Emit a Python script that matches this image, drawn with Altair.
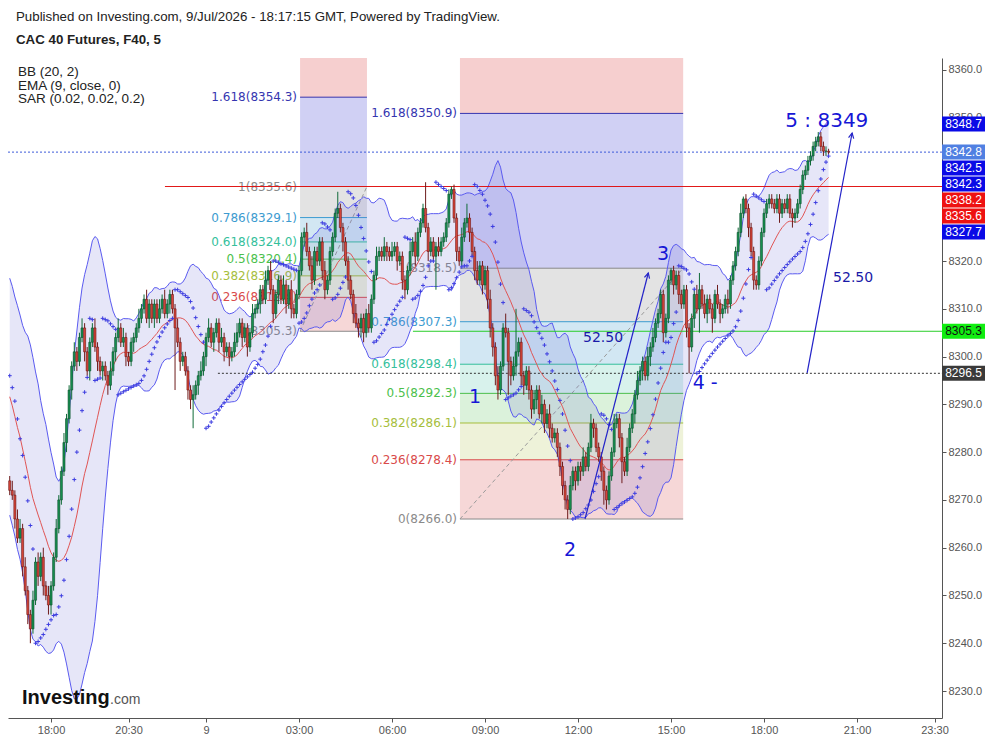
import altair as alt
import pandas as pd

# ---------------- data ----------------
# warm-up closes before the visible window (needed for BB(20) at the left edge)
pre_closes = [8306, 8309, 8311, 8308, 8304, 8306, 8302, 8298, 8300, 8296,
              8292, 8288, 8290, 8285, 8281, 8283, 8279, 8276, 8278, 8274]

first_index = -76          # bar index of first visible 5-min candle (index 0 = 00:00 on the 9th)
closes = [
    8272, 8271, 8266, 8262,  8264, 8256, 8251, 8246,  8243, 8249, 8257, 8254,
    8258, 8252, 8250, 8248,  8252, 8258, 8264, 8270,  8276, 8282, 8287, 8293,
    8298, 8301, 8299, 8304,  8306, 8301, 8297, 8303,  8306, 8302, 8299, 8297,
    8298, 8296, 8294, 8297,  8301, 8304, 8306, 8303,  8304, 8300, 8299, 8303,
    8304, 8306, 8308, 8310,  8312, 8308, 8311, 8308,  8311, 8308, 8310, 8312,
    8309, 8311, 8313, 8310,  8306, 8303, 8299, 8300,  8297, 8293, 8291, 8292,
    8294, 8296, 8297, 8300,  8304, 8306, 8303, 8305,  8307, 8303, 8304, 8301,
    8302, 8300, 8301, 8303,  8305, 8307, 8304, 8306,  8302, 8305, 8309, 8310,
    8311, 8314, 8312, 8316,  8318, 8314, 8309, 8313,  8316, 8312, 8315, 8311,
    8314, 8310, 8309, 8313,  8318, 8325, 8326, 8322,  8319, 8316, 8322, 8320,
    8324, 8318, 8314, 8316,  8322, 8325, 8330, 8331,  8327, 8324, 8320, 8316,
    8313, 8309, 8307, 8306,  8308, 8305, 8309, 8306,  8312, 8317, 8321, 8322,
    8321, 8323, 8322, 8321,  8322, 8323, 8320, 8321,  8316, 8314, 8318, 8322,
    8324, 8321, 8326, 8328,  8331, 8327, 8322, 8324,  8321, 8323, 8322, 8324,
    8325, 8328, 8334, 8335,  8329, 8322, 8320, 8325,  8328, 8329, 8326, 8322,
    8318, 8316, 8319, 8315,  8318, 8312, 8306, 8302,  8296, 8293, 8298, 8306,
    8305, 8299, 8296, 8298,  8301, 8303, 8296, 8294,  8297, 8293, 8289, 8291,
    8293, 8288, 8290, 8286,  8288, 8285, 8283, 8284,  8281, 8277, 8273, 8270,
    8268, 8273, 8276, 8274,  8277, 8276, 8279, 8277,  8281, 8286, 8285, 8281,
    8279, 8276, 8272, 8270,  8275, 8280, 8286, 8287,  8283, 8278, 8276, 8281,
    8285, 8288, 8292, 8295,  8297, 8299, 8296, 8300,  8302, 8304, 8307, 8309,
    8313, 8305, 8308, 8316,  8318, 8315, 8317, 8313,  8311, 8314, 8306, 8302,
    8308, 8313, 8310, 8314,  8311, 8309, 8312, 8310,  8308, 8313, 8311, 8309,
    8310, 8312, 8311, 8316,  8319, 8322, 8326, 8330,  8333, 8331, 8327, 8322,
    8316, 8315, 8320, 8326,  8330, 8332, 8333, 8332,  8331, 8333, 8330, 8332,
    8331, 8333, 8330, 8329,  8330, 8332, 8335, 8338,  8339, 8341, 8342, 8344,
    8345, 8346, 8344, 8343,  8343, 8342.8]

# upper / lower wick lengths (points) per candle
wick_up = [
    1, 2, 1, 2,  2, 1, 2, 1,  1, 2, 1, 2,  1, 2, 1, 2,  1, 1, 2, 1,  1, 2, 1, 1,
    1, 2, 1, 1,  2, 1, 1, 1,  1, 2, 1, 1,  1, 1, 1, 2,  1, 1, 2, 1,  2, 1, 1, 1,
    1, 1, 2, 1,  1, 2, 1, 1,  1, 1, 2, 1,  2, 1, 1, 1,  1, 2, 1, 1,  1, 1, 1, 2,
    1, 1, 2, 1,  1, 2, 1, 1,  1, 1, 2, 1,  1, 1, 1, 2,  2, 1, 1, 1,  1, 1, 2, 1,
    1, 1, 1, 2,  1, 2, 1, 1,  1, 1, 2, 1,  1, 2, 1, 1,  1, 1, 1, 2,  1, 2, 1, 1,
    1, 1, 2, 1,  1, 1, 1, 3.5,  1, 1, 1, 1,  1, 1, 2, 1,  1, 1, 1, 2,  1, 1, 2, 1,
    1, 2, 1, 1,  2, 1, 1, 1,  1, 1, 1, 2,  1, 2, 1, 1,  1, 5.5, 1, 1,  1, 1, 2, 1,
    1, 1, 1, 0.6,  1, 1, 1, 2,  1, 3, 1, 1,  1, 2, 1, 1,  1, 1, 2, 1,  1, 2, 1, 1,
    3, 1, 1, 2,  9, 1, 1, 1,  1, 1, 1, 2,  1, 1, 2, 1,  1, 2, 1, 1,  1, 1, 1, 1,
    1, 2, 1, 1,  1, 1, 2, 1,  1, 2, 1, 1,  1, 1, 1, 1,  1, 1, 2, 1,  1, 1, 1, 2,
    1, 1, 1, 2,  1, 1, 1, 2,  1, 2, 1, 1,  1, 1, 1, 1,  0.5, 1, 1, 1,  1, 1, 1, 1,
    1, 1, 2, 3.5,  1, 2, 1, 1,  1, 1, 2, 1,  1, 1, 2, 1,  1, 1, 1, 2,  0.5, 1, 1, 1,
    1, 1, 1, 1,  1, 1, 1, 1,  1, 1, 1, 1,  1, 1, 1, 1,  1, 1, 1, 1,  1, 1, 1, 1,
    1, 1, 1, 1,  1, 0.5]
wick_dn = [
    1, 1, 2, 1,  1, 2, 1, 2,  3, 1, 1, 2,  1, 2, 1, 2,  2, 1, 1, 1,  1, 1, 2, 1,
    2, 1, 2, 1,  1, 2, 1, 2,  1, 1, 2, 1,  2, 1, 2, 1,  1, 2, 1, 1,  1, 2, 1, 1,
    2, 1, 1, 1,  1, 1, 2, 1,  2, 1, 1, 1,  1, 1, 2, 1,  13, 1, 2, 1,  1, 2, 2, 6,
    1, 2, 1, 1,  2, 1, 1, 2,  1, 2, 1, 2,  1, 2, 1, 1,  1, 1, 2, 1,  2, 1, 1, 1,
    1, 2, 1, 1,  1, 1, 2, 1,  2, 1, 1, 2,  1, 2, 1, 1,  1, 1, 2, 1,  1, 2, 1, 1,
    1, 2, 2, 1,  1, 1, 1, 1,  1, 2, 1, 2,  1, 2, 1, 2,  2, 2, 1, 1,  1, 1, 1, 1,
    1, 1, 2, 1,  1, 1, 2, 1,  2, 2, 1, 1,  1, 2, 1, 1,  1, 1, 2, 1,  1, 7, 1, 1,
    1, 1, 1, 1,  1, 2, 1, 1,  1, 1, 2, 1,  2, 1, 1, 2,  1, 2, 2, 2,  2, 2, 1, 1,
    1, 7, 2, 1,  2, 1, 2, 2,  1, 2, 2, 1,  2, 1, 2, 2,  1, 2, 1, 1,  2, 2, 2, 2,
    2, 1, 1, 2,  1, 2, 1, 1,  1, 1, 2, 1,  1, 2, 3, 2,  1, 1, 1, 1,  2, 4.5, 1, 1,
    1, 1, 2, 1,  1, 2, 1, 1,  2, 1, 1, 1,  1, 2, 1, 1,  1, 2, 1, 2,  1, 1, 2, 5.5,
    1, 2, 1, 5,  1, 1, 2, 1,  3, 1, 1, 2,  1, 1, 2, 1,  1, 1, 1, 1,  1, 1, 2, 1,
    2, 1, 1, 1,  1, 1, 1, 1,  1, 1, 2, 1,  1, 1, 1, 2,  1, 1, 1, 1,  1, 1, 1, 1,
    1, 1, 1, 1,  1, 0.5]

sar_start, sar_af_start = 8296.0, 0.10   # SAR state at the first visible bar (down trend)

tick_index = [-60, -30, 0, 36, 72, 108, 144, 180, 216, 252, 282]
tick_text = ["18:00", "20:30", "9", "03:00", "06:00", "09:00", "12:00", "15:00", "18:00", "21:00", "23:30"]
# 8330 and 8340 are hidden behind the price flags in the reference
y_ticks = [8230, 8240, 8250, 8260, 8270, 8280, 8290, 8300, 8310, 8320, 8350, 8360]

fib_ratios = [0, 0.236, 0.382, 0.5, 0.618, 0.786, 1, 1.618]
fib_left_prices = [8305.3, 8312.4, 8316.9, 8320.4, 8324.0, 8329.1, 8335.6, 8354.3]
fib_right_prices = [8266.0, 8278.4, 8286.1, 8292.3, 8298.4, 8307.3, 8318.5, 8350.9]
fib_tops = [8384.6, 8403.4]                # 2.618 levels (off chart)
fib_spans = [(36.4, 62.3), (98.3, 184.7)]  # bar index of the two anchors
fib_line_colors = ["#8a8a8a", "#d94a4a", "#a6be3c", "#4cbf4c", "#35bf9c", "#3d9bd0", "#8a8a8a", "#3535b0"]
fib_fill_colors = ["#d84848", "#a8c040", "#4cc04c", "#3cc0a0", "#4aa0d0", "#909090", "#6464dc", "#e06060"]
fib_fill_opacity = [0.22, 0.2, 0.2, 0.2, 0.25, 0.25, 0.3, 0.3]

hline_prices = [8335.6, 8305.3, 8296.5, 8342.8]
hline_start = [-15.9, 80.1, 4.6, -76.66]
hline_colors = ["#e01010", "#22cc22", "#333333", "#3d5bd9"]
hline_dash = ["solid", "solid", "dot", "dot"]

arrow_from = [(146.7, 8266.0), (232.7, 8296.6)]
arrow_to = [(171.2, 8317.5), (250.1, 8346.8)]
arrow_angle = [14.4, 10.6]

ann_text = ["1", "2", "3", "4 -", "5 : 8349", "52.50", "52.50"]
ann_i = [104.1, 140.9, 176.9, 193.2, 240.3, 153.7, 250.5]
ann_price = [8291.5, 8259.5, 8321.5, 8294.5, 8349.3, 8303.9, 8316.5]
ann_size = [19, 19, 19, 19, 20, 14, 14]
ann_color = ["#1616d6"] * 5 + ["#1a1aa8"] * 2

flag_values = [8348.7, 8342.8, 8342.5, 8342.3, 8338.2, 8335.6, 8327.7, 8305.3, 8296.5]
flag_bg = ["#0a0ae6", "#5080e2", "#0a0ae6", "#0a0ae6", "#ee1111", "#ee1111", "#0a0ae6", "#11ee11", "#3a3a3a"]
flag_fg = ["white"] * 7 + ["#111111", "white"]

# ---------------- derived tables ----------------
X_DOMAIN = [-76.66, 284.9]
Y_DOMAIN = [8224.35, 8362.5]
W, H = 934, 660

n = len(closes)
idx = list(range(first_index, first_index + n))
opens = [pre_closes[-1]] + closes[:-1]
highs = [max(o, c) + u for o, c, u in zip(opens, closes, wick_up)]
lows = [min(o, c) - d for o, c, d in zip(opens, closes, wick_dn)]
up = [c >= o for o, c in zip(opens, closes)]
candles = pd.DataFrame({"i": idx, "o": opens, "c": closes, "h": highs, "l": lows,
                        "xl": [k - 0.4 for k in idx], "xr": [k + 0.4 for k in idx],
                        "up": ["up" if u else "dn" for u in up]})

allc = pd.Series(pre_closes + closes, dtype=float)
mean20 = allc.rolling(20).mean()
sd20 = allc.rolling(20).std(ddof=0)
p = len(pre_closes)


def parabolic_sar(hs, ls, start, af0):
    s, trend, af = start, -1, af0
    ep = ls[0]
    out = [s]
    for k in range(1, len(hs)):
        s = s + af * (ep - s)
        if trend > 0:
            s = min(s, ls[k - 1], ls[max(k - 2, 0)])
            if ls[k] < s:
                trend, s, ep, af = -1, ep, ls[k], 0.02
            elif hs[k] > ep:
                ep, af = hs[k], min(af + 0.02, 0.2)
        else:
            s = max(s, hs[k - 1], hs[max(k - 2, 0)])
            if hs[k] > s:
                trend, s, ep, af = 1, ep, hs[k], 0.02
            elif ls[k] < ep:
                ep, af = ls[k], min(af + 0.02, 0.2)
        out.append(s)
    return out


ind = pd.DataFrame({"i": idx,
                    "basis": mean20[p:].values,
                    "upper": (mean20 + 2 * sd20)[p:].values,
                    "lower": (mean20 - 2 * sd20)[p:].values,
                    "sar": parabolic_sar(highs, lows, sar_start, sar_af_start)})

band_rows, level_rows, diag_rows = [], [], []
for f, (prices, top, (x1, x2)) in enumerate(zip([fib_left_prices, fib_right_prices], fib_tops, fib_spans)):
    edges = prices + [top]
    for b in range(len(prices)):
        band_rows.append({"x1": x1, "x2": x2, "lo": edges[b], "hi": edges[b + 1],
                          "fill": fib_fill_colors[b], "op": fib_fill_opacity[b]})
    for r, pr, col in zip(fib_ratios, prices, fib_line_colors):
        level_rows.append({"x1": x1, "x2": x2, "y": pr, "col": col,
                           "label": f"{r:g}({pr:.1f})"})
    diag_rows += [{"fib": f, "x": x1, "y": prices[0]}, {"fib": f, "x": x2, "y": prices[6]}]
bands = pd.DataFrame(band_rows)
levels = pd.DataFrame(level_rows)
diags = pd.DataFrame(diag_rows)

hlines = pd.DataFrame({"x1": hline_start, "x2": [X_DOMAIN[1]] * 4, "y": hline_prices,
                       "col": hline_colors, "dash": hline_dash})

arrow_lines = pd.DataFrame([{"a": k, "x": pt[0], "y": pt[1]}
                            for k in range(2) for pt in (arrow_from[k], arrow_to[k])])
arrow_heads = pd.DataFrame({"x": [t[0] for t in arrow_to], "y": [t[1] for t in arrow_to], "ang": arrow_angle})

ann = pd.DataFrame({"t": ann_text, "x": ann_i, "y": ann_price, "fs": ann_size, "col": ann_color})

# stack flags so they do not overlap (16 px apart)
ppu = H / (Y_DOMAIN[1] - Y_DOMAIN[0])
gap = 16 / ppu
disp = []
for v in flag_values:
    disp.append(v if not disp else min(v, disp[-1] - gap))
half = 7.5 / ppu
flags = pd.DataFrame({"v": [f"{v:.1f}" for v in flag_values], "d": disp,
                      "lo": [d - half for d in disp], "hi": [d + half for d in disp],
                      "bg": flag_bg, "fg": flag_fg})

# ---------------- chart ----------------
xs = alt.Scale(domain=X_DOMAIN, nice=False, zero=False)
ys = alt.Scale(domain=Y_DOMAIN, nice=False, zero=False)

label_expr = " : ".join(f"datum.value == {v} ? '{t}'" for v, t in zip(tick_index, tick_text)) + " : ''"
axis_style = dict(title=None, grid=False, tickSize=4, labelPadding=2, labelFont="Liberation Sans",
                  labelFontSize=11, labelColor="#555555", domainColor="#555555", tickColor="#555555",
                  labelFlush=False, labelOverlap=False)
xaxis = alt.Axis(values=tick_index, labelExpr=label_expr, **axis_style)
yaxis = alt.Axis(orient="right", values=y_ticks, format=".1f", **axis_style)


def ex(f):
    return alt.X(f, type="quantitative", scale=xs, axis=xaxis)


def ey(f):
    return alt.Y(f, type="quantitative", scale=ys, axis=yaxis)


fib_fill = alt.Chart(bands).mark_rect(clip=True).encode(
    x=ex("x1"), x2="x2", y=ey("lo"), y2="hi",
    color=alt.Color("fill:N", scale=None), opacity=alt.Opacity("op:Q", scale=None))
fib_lines = alt.Chart(levels).mark_rule(strokeWidth=1).encode(
    x=ex("x1"), x2="x2", y=ey("y"), color=alt.Color("col:N", scale=None))
fib_diag = alt.Chart(diags).mark_line(strokeDash=[4, 3], color="#9a9a9a", strokeWidth=1).encode(
    x=ex("x"), y=ey("y"), detail="fib:N")
fib_text = alt.Chart(levels).mark_text(align="right", dx=-3, baseline="middle",
                                       font="DejaVu Sans", fontSize=12).encode(
    x=ex("x1"), y=ey("y"), text="label:N", color=alt.Color("col:N", scale=None))

bb_area = alt.Chart(ind).mark_area(color="#6a6ad6", opacity=0.17).encode(
    x=ex("i"), y=ey("upper"), y2="lower")
bb_up = alt.Chart(ind).mark_line(color="#5b5bf0", strokeWidth=1).encode(x=ex("i"), y=ey("upper"))
bb_lo = alt.Chart(ind).mark_line(color="#5b5bf0", strokeWidth=1).encode(x=ex("i"), y=ey("lower"))
bb_mid = alt.Chart(ind).mark_line(color="#e05555", strokeWidth=1).encode(x=ex("i"), y=ey("basis"))

hl = alt.Chart(hlines).mark_rule(strokeWidth=1).encode(
    x=ex("x1"), x2="x2", y=ey("y"), color=alt.Color("col:N", scale=None),
    strokeDash=alt.StrokeDash("dash:N", scale=alt.Scale(domain=["solid", "dot"], range=[[1, 0], [2, 2]]),
                              legend=None))

wicks = alt.Chart(candles).mark_rule(strokeWidth=1).encode(
    x=ex("i"), y=ey("l"), y2="h",
    color=alt.Color("up:N", scale=alt.Scale(domain=["up", "dn"], range=["#0f6a38", "#6e1c1c"]), legend=None))
bodies = alt.Chart(candles).mark_rect(strokeWidth=0.6).encode(
    x=ex("xl"), x2="xr", y=ey("o"), y2="c",
    fill=alt.Fill("up:N", scale=alt.Scale(domain=["up", "dn"], range=["#179050", "#d8473a"]), legend=None),
    stroke=alt.Stroke("up:N", scale=alt.Scale(domain=["up", "dn"], range=["#0c4f2b", "#6b1414"]), legend=None))

sar = alt.Chart(ind).mark_point(shape="M-1,0L1,0M0,-1L0,1", size=16, filled=False,
                                strokeWidth=1, color="#3d3de0", opacity=1).encode(x=ex("i"), y=ey("sar"))

arr = alt.Chart(arrow_lines).mark_line(color="#2323c8", strokeWidth=1.2).encode(
    x=ex("x"), y=ey("y"), detail="a:N")
heads = alt.Chart(arrow_heads).mark_point(shape="M-0.5,1L0,0L0.5,1", size=110, filled=False,
                                          strokeWidth=1.2, color="#2323c8", opacity=1).encode(
    x=ex("x"), y=ey("y"), angle=alt.Angle("ang:Q", scale=None))

ann_t = alt.Chart(ann).mark_text(align="center", baseline="middle", font="DejaVu Sans").encode(
    x=ex("x"), y=ey("y"), text="t:N", size=alt.Size("fs:Q", scale=None),
    color=alt.Color("col:N", scale=None))

flag_r = alt.Chart(flags).mark_rect().encode(
    x=alt.value(W), x2=alt.value(W + 43), y=ey("lo"), y2="hi", color=alt.Color("bg:N", scale=None))
flag_t = alt.Chart(flags).mark_text(align="center", baseline="middle", font="Liberation Sans",
                                    fontSize=12).encode(
    x=alt.value(W + 21.5), y=ey("d"), text="v:N", color=alt.Color("fg:N", scale=None))


def label(txt, x, y, size, weight="normal", color="#222222", baseline="middle"):
    return alt.Chart(pd.DataFrame({"t": [txt]})).mark_text(
        align="left", baseline=baseline, font="Liberation Sans", fontSize=size,
        fontWeight=weight, color=color).encode(x=alt.value(x), y=alt.value(y), text="t:N")


texts = [
    label("Published on Investing.com, 9/Jul/2026 - 18:17:15 GMT, Powered by TradingView.", 8, -41, 13.3),
    label("CAC 40 Futures, F40, 5", 8, -18, 13.3, weight="bold"),
    label("BB (20, 2)", 10, 14, 13.5),
    label("EMA (9, close, 0)", 10, 27.5, 13.5),
    label("SAR (0.02, 0.02, 0.2)", 10, 41, 13.5),
    label("Investing", 14, 646, 20, weight="bold", color="#111111", baseline="alphabetic"),
    label(".com", 102, 646, 14, color="#555555", baseline="alphabetic"),
]

chart = alt.layer(
    fib_fill, fib_lines, fib_diag, fib_text,
    bb_area, bb_up, bb_lo, bb_mid, hl,
    wicks, bodies, sar, arr, heads, ann_t, flag_r, flag_t, *texts
).properties(
    width=W, height=H,
    padding={"left": 0, "top": 50, "right": 43, "bottom": 16},
    autosize=alt.AutoSizeParams(type="none"),
    background="white",
).configure_view(stroke=None)

chart.save("out.html", embed_options={"renderer": "svg", "actions": False})
